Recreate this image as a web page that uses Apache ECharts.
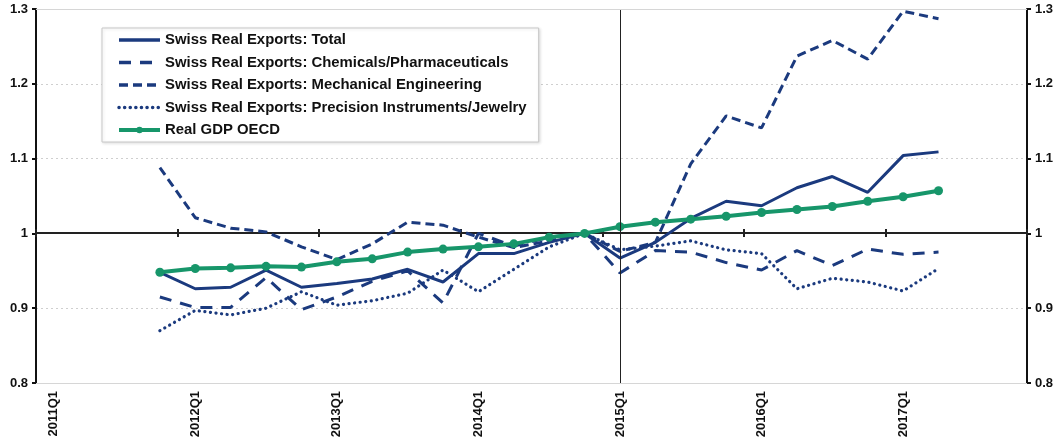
<!DOCTYPE html>
<html>
<head>
<meta charset="utf-8">
<script src="https://cdn.jsdelivr.net/npm/echarts@6/dist/echarts.min.js"></script>
<style>
  html, body { margin: 0; padding: 0; background: #fff; }
  #chart { width: 1061px; height: 448px; }
</style>
</head>
<body>
<div id="chart"></div>
<script>
// Quarterly categories on the x axis
const quarters = [
  '2011Q1','2011Q2','2011Q3','2011Q4',
  '2012Q1','2012Q2','2012Q3','2012Q4',
  '2013Q1','2013Q2','2013Q3','2013Q4',
  '2014Q1','2014Q2','2014Q3','2014Q4',
  '2015Q1','2015Q2','2015Q3','2015Q4',
  '2016Q1','2016Q2','2016Q3','2016Q4',
  '2017Q1','2017Q2','2017Q3','2017Q4'
];
// Observations run from 2011Q4 through 2017Q2 (index, 2014Q4 = 1)
const firstObs = '2011Q4';

const exportsTotal = [0.948, 0.926, 0.928, 0.951, 0.928, 0.933, 0.939, 0.952, 0.935, 0.973, 0.973, 0.988,
  1.000, 0.967, 0.988, 1.020, 1.043, 1.037, 1.061, 1.076, 1.055, 1.104, 1.109];
const exportsChemPharma = [0.915, 0.901, 0.901, 0.941, 0.898, 0.915, 0.936, 0.950, 0.907, 1.000, 0.983, 0.995,
  1.000, 0.947, 0.977, 0.975, 0.961, 0.951, 0.977, 0.957, 0.979, 0.972, 0.975];
const exportsMechEng = [1.088, 1.021, 1.007, 1.002, 0.982, 0.965, 0.986, 1.015, 1.011, 0.995, 0.981, 0.990,
  1.000, 0.976, 0.988, 1.093, 1.157, 1.141, 1.237, 1.258, 1.233, 1.297, 1.287];
const exportsPrecision = [0.870, 0.897, 0.891, 0.900, 0.922, 0.904, 0.910, 0.920, 0.951, 0.922, 0.952, 0.982,
  1.000, 0.978, 0.983, 0.990, 0.978, 0.973, 0.926, 0.940, 0.935, 0.923, 0.953];
const gdpOECD = [0.948, 0.953, 0.954, 0.956, 0.955, 0.962, 0.966, 0.975, 0.979, 0.982, 0.986, 0.995,
  1.000, 1.009, 1.015, 1.019, 1.023, 1.028, 1.032, 1.036, 1.043, 1.049, 1.057];

const yTicks = [0.8, 0.9, 1.0, 1.1, 1.2, 1.3];
const markerQuarter = '2015Q1';

const seriesNames = [
  'Swiss Real Exports: Total',
  'Swiss Real Exports: Chemicals/Pharmaceuticals',
  'Swiss Real Exports: Mechanical Engineering',
  'Swiss Real Exports: Precision Instruments/Jewelry',
  'Real GDP OECD'
];

// Align a series with the full category list
function place(values) {
  const start = quarters.indexOf(firstObs);
  return quarters.map((q, i) => {
    const k = i - start;
    return k >= 0 && k < values.length ? values[k] : null;
  });
}

const navy = '#1b3a7e';
const green = '#17966a';
const font = '"Liberation Sans", Arial, sans-serif';
const yMin = yTicks[0], yMax = yTicks[yTicks.length - 1];
const crossOffset = -150; // x axis line drawn where y = 1

const chart = echarts.init(document.getElementById('chart'), null, { renderer: 'canvas' });

const tickLabel = { fontFamily: font, fontWeight: 'bold', fontSize: 13, color: '#111' };

// Legend entries: plain line icons for the export series, line with marker for GDP
const legendData = seriesNames.map((name, i) =>
  i < 4
    ? { name: name, itemStyle: { opacity: 0 }, lineStyle: { width: 3.5 } }
    : { name: name, lineStyle: { width: 4 } });

chart.setOption({
  backgroundColor: '#fff',
  animation: false,
  grid: { left: 36, right: 34, top: 9, bottom: 65, containLabel: false },
  legend: {
    orient: 'vertical',
    left: 102,
    top: 28,
    backgroundColor: '#fff',
    borderColor: '#c8c8c8',
    borderWidth: 1,
    padding: [4, 12, 4, 15],
    itemWidth: 41,
    itemHeight: 8,
    itemGap: 6.5,
    shadowColor: 'rgba(0,0,0,0.12)',
    shadowBlur: 3,
    shadowOffsetX: 1,
    shadowOffsetY: 1,
    textStyle: { fontFamily: font, fontWeight: 'bold', fontSize: 14.9, lineHeight: 16, color: '#111' },
    data: legendData
  },
  xAxis: [
    {
      type: 'category',
      data: quarters,
      boundaryGap: true,
      position: 'bottom',
      axisLine: { lineStyle: { color: '#d6d6d6', width: 1 } },
      axisTick: { show: false },
      axisLabel: Object.assign({ interval: 3, rotate: 90, margin: 8 }, tickLabel),
      splitLine: { show: false }
    },
    {
      type: 'category',
      data: quarters,
      boundaryGap: true,
      position: 'bottom',
      offset: crossOffset,
      axisLine: { lineStyle: { color: '#222', width: 2 } },
      axisTick: { show: true, interval: 3, length: 4, inside: false, lineStyle: { color: '#222', width: 2 } },
      axisLabel: { show: false },
      splitLine: { show: false }
    },
    {
      type: 'category',
      data: quarters,
      boundaryGap: true,
      position: 'bottom',
      offset: crossOffset,
      axisLine: { show: false },
      axisTick: { show: true, interval: 3, length: 4, inside: true, lineStyle: { color: '#222', width: 2 } },
      axisLabel: { show: false },
      splitLine: { show: false }
    }
  ],
  yAxis: [
    {
      type: 'value',
      position: 'left',
      min: yMin, max: yMax, interval: 0.1,
      axisLine: { show: true, lineStyle: { color: '#111', width: 2 } },
      axisTick: { show: true, length: 4, lineStyle: { color: '#111', width: 2 } },
      axisLabel: Object.assign({ margin: 8, formatter: v => String(+v.toFixed(1)) }, tickLabel),
      splitLine: { show: true, lineStyle: { color: '#cfcfcf', type: [2, 3], width: 1 } }
    },
    {
      type: 'value',
      position: 'right',
      min: yMin, max: yMax, interval: 0.1,
      axisLine: { show: true, lineStyle: { color: '#111', width: 2 } },
      axisTick: { show: true, length: 4, lineStyle: { color: '#111', width: 2 } },
      axisLabel: Object.assign({ margin: 8, formatter: v => String(+v.toFixed(1)) }, tickLabel),
      splitLine: { show: false }
    }
  ],
  series: [
    {
      name: seriesNames[0],
      type: 'line',
      data: place(exportsTotal),
      symbol: 'none',
      lineStyle: { color: navy, width: 3 },
      itemStyle: { color: navy },
      markLine: {
        silent: true,
        symbol: 'none',
        label: { show: false },
        data: [
          { xAxis: markerQuarter, lineStyle: { color: '#222', width: 1, type: 'solid' } },
          { yAxis: yMax, lineStyle: { color: '#d6d6d6', width: 1, type: 'solid' } }
        ]
      }
    },
    {
      name: seriesNames[1],
      type: 'line',
      data: place(exportsChemPharma),
      symbol: 'none',
      lineStyle: { color: navy, width: 3, type: [12, 9] },
      itemStyle: { color: navy }
    },
    {
      name: seriesNames[2],
      type: 'line',
      data: place(exportsMechEng),
      symbol: 'none',
      lineStyle: { color: navy, width: 3, type: [9, 5] },
      itemStyle: { color: navy }
    },
    {
      name: seriesNames[3],
      type: 'line',
      data: place(exportsPrecision),
      symbol: 'none',
      lineStyle: { color: navy, width: 3.2, type: [0.1, 5.5], cap: 'round' },
      itemStyle: { color: navy }
    },
    {
      name: seriesNames[4],
      type: 'line',
      data: place(gdpOECD),
      symbol: 'circle',
      symbolSize: 9,
      lineStyle: { color: green, width: 4 },
      itemStyle: { color: green }
    }
  ]
});
</script>
</body>
</html>
